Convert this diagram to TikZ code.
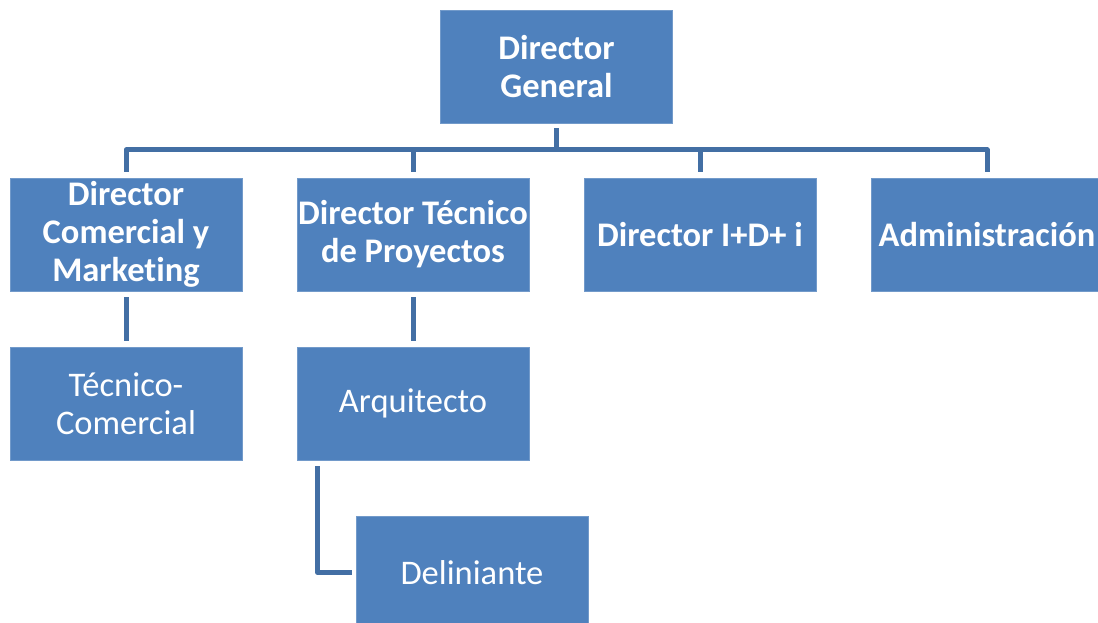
\documentclass[tikz,border=0pt]{standalone}
\usepackage{fontspec}
\setmainfont{Carlito}[Ligatures=NoCommon, RawFeature={-dlig;-calt}]
\definecolor{boxblue}{HTML}{4F81BD}
\definecolor{lineblue}{HTML}{436FA4}
\tikzset{
  unit/.style={draw=boxblue!80!white, line width=0.6pt, fill=boxblue, text=white,
    minimum width=232pt, minimum height=113pt, inner sep=0pt, align=center,
    font=\fontsize{34.5}{38}\selectfont},
  head/.style={unit, font=\fontsize{34.5}{38}\selectfont\bfseries},
  conn/.style={draw=lineblue, line width=5pt, line join=round},
}
\begin{document}
\begin{tikzpicture}[x=1pt, y=-1pt]
  \clip (0,0) rectangle (1098,623);
  \useasboundingbox (0,0) rectangle (1098,623);

  % boxes
  \node[head] (dg)   at (556.5,66.5) {Director\\General};
  \node[head] (com)  at (126,234.5)  {Director\\Comercial y\\Market\kern0pt ing};
  \node[head] (tec)  at (413,234.5)  {Director Técnico\\de Proyectos};
  \node[head] (idi)  at (700,234.5)  {Director I+D+ i};
  \node[head] (adm)  at (987,234.5)  {Administración};
  \node[unit] (tcom) at (126,403.5)  {Técnico-\\Comercial};
  \node[unit] (arq)  at (413,403.5)  {Arquitecto};
  \node[unit] (del)  at (472,572.5)  {Deliniante};

  % junction bar under the general director
  \coordinate (bar) at (556.5,150);
  \draw[conn, shorten <=5pt] (dg.south) -- (bar);
  \draw[conn, shorten >=6pt] (bar) -| (com.north);
  \draw[conn, shorten >=6pt] (bar) -| (tec.north);
  \draw[conn, shorten >=6pt] (bar) -| (idi.north);
  \draw[conn, shorten >=6pt] (bar) -| (adm.north);

  % second level to third level
  \draw[conn, shorten <=6pt, shorten >=6pt] (com.south) -- (tcom.north);
  \draw[conn, shorten <=6pt, shorten >=6pt] (tec.south) -- (arq.north);
  \draw[conn, shorten <=6pt, shorten >=4pt] ([xshift=21pt]arq.south west) |- (del.west);
\end{tikzpicture}
\end{document}
